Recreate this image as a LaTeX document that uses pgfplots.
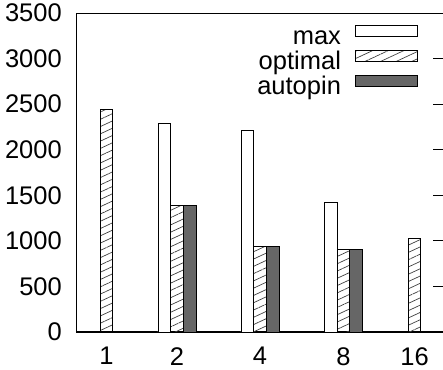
\documentclass[border=0pt]{standalone}
\usepackage{pgfplots}
\pgfplotsset{compat=1.18}
\usetikzlibrary{patterns.meta}
\usepackage{fontspec}
\setmainfont{Liberation Sans}
\begin{document}
\begin{tikzpicture}
\path[use as bounding box] (-76bp,-38bp) rectangle (367bp,332bp);
\begin{axis}[
  at={(0,0)}, anchor=south west,
  scale only axis, width=367bp, height=319bp,
  xmin=0, xmax=367, ymin=0, ymax=3500,
  /pgf/number format/assume math mode=true,
  ytick={0,500,...,3500},
  ytick pos=right, yticklabel pos=left,
  major tick length=10bp,
  xtick={30.5,101,184,267.5,338.5},
  xticklabels={1,2,4,8,16},
  x tick style={draw=none},
  tick style={line width=0.8bp, black},
  axis line style={line width=0.8bp},
  yticklabel style={font=\fontsize{25.5bp}{26bp}\selectfont, inner sep=0pt, xshift=-14bp, /pgf/number format/1000 sep={}},
  xticklabel style={font=\fontsize{25.5bp}{26bp}\selectfont, inner sep=0pt, yshift=-15bp},
  extra y ticks={0}, extra y tick labels={},
  extra y tick style={grid=major, major grid style={line width=1.6bp, black}, tick style={draw=none}},
  legend cell align=right, legend plot pos=right,
  legend style={at={(rel axis cs:0.932,0.962)}, anchor=north east, draw=none, fill=none,
    inner sep=0pt, row sep=0pt, column sep=14bp, font=\fontsize{25.5bp}{26bp}\selectfont,
    nodes={inner sep=0pt, text height=14.5bp, text depth=5.5bp}},
  legend image code/.code={\draw[#1] (0bp,3.5bp) rectangle (62bp,14.5bp);},
]
\addplot[ybar, bar width=12.7, bar shift=0pt, draw=black, line width=0.9bp, fill=white]
  coordinates {(88.3,2290) (171.3,2210) (254.8,1420)};
\addlegendentry{max}
\addplot[ybar, bar width=12.7, bar shift=0pt, draw=black, line width=0.9bp,
  pattern={Lines[angle=25,distance=6.6bp,line width=0.7bp]}, pattern color=black!75]
  coordinates {(30.5,2440) (101,1390) (184,940) (267.5,910) (338.5,1030)};
\addlegendentry{optimal}
\addplot[ybar, bar width=12.7, bar shift=0pt, draw=black, line width=0.9bp, fill=black!60]
  coordinates {(113.7,1390) (196.7,940) (280.2,910)};
\addlegendentry{autopin}
\end{axis}
\end{tikzpicture}
\end{document}
